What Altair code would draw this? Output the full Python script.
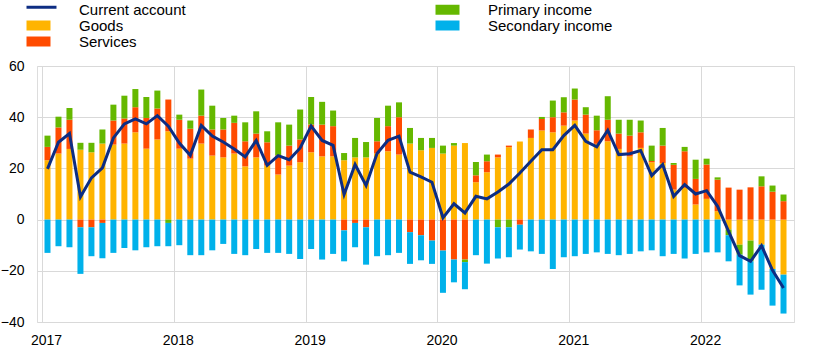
import altair as alt
import pandas as pd

# Monthly data, Jan 2017 - Aug 2022 (EUR billions)
months = []
for y in range(2017, 2023):
    for m in range(1, 13):
        months.append(f"{y}-{m:02d}")
months = months[:68]

goods = [23.2, 25.8, 27.6, 27.3, 26.3, 29.7, 29.3, 29.7, 34.1, 27.7, 31.3, 34.5,
         27.7, 23.8, 29.7, 25.0, 24.3, 25.8, 20.8, 24.3, 21.1, 17.6, 21.1, 22.4,
         26.3, 24.7, 24.7, 23.2, 24.3, 24.3, 25.8, 26.7, 25.4, 29.7, 27.1, 28.0,
         25.8, 28.9, 29.9, 14.6, 18.5, 24.3, 28.3, 30.5, 31.9, 34.8, 34.1, 36.7,
         38.7, 33.6, 29.6, 30.6, 27.6, 24.7, 28.0, 22.4, 22.1, 11.7, 12.4, 5.9,
         8.1, 3.3, -3.9, -9.8, -8.2, -9.8, -19.3, -21.5]
services = [5.2, 10.2, 11.4, -3.0, -3.0, -1.3, 9.4, 9.8, 9.8, 12.0, 12.1, 12.4,
            11.3, 11.7, 10.9, 10.2, 10.9, 12.0, 9.8, 9.3, 9.1, 7.5, 7.8, 8.9,
            10.8, 12.4, 11.8, -4.2, -1.3, -3.0, 4.8, 9.8, 14.6, -4.9, -6.1, -8.2,
            -12.1, -15.6, -15.6, 2.7, 4.3, 1.1, 0.6, -2.0, 3.3, 4.5, 5.9, 5.2,
            8.2, 7.4, 5.3, 8.4, 6.0, 8.1, 6.1, 0.5, 6.8, 9.7, 14.3, 10.0,
            13.4, 12.3, 12.5, 11.7, 12.6, 13.0, 10.9, 7.2]
primary = [4.4, 4.2, 4.6, 2.7, 3.7, 5.5, 6.2, 8.9, 7.1, 8.2, 7.0, -1.3,
           2.0, 3.2, 10.2, 9.3, 4.5, 2.8, 7.4, 8.7, 4.3, 12.9, 8.2, 11.7,
           10.8, 8.9, 6.1, 2.8, 7.6, 6.0, 9.1, 8.0, 5.8, 6.1, 4.8, 3.9,
           3.1, 1.0, -1.0, 5.2, 2.6, -3.0, -3.0, 0.0, 0.0, 0.8, 6.5, 5.9,
           4.3, 2.9, 5.7, 9.2, 5.4, 6.2, 4.6, 6.0, 6.9, 0.7, 1.7, 7.5,
           2.3, 0.9, -2.2, -3.9, -8.1, 3.9, 2.4, 2.6]
secondary = [-13.0, -10.4, -10.8, -18.2, -11.3, -13.8, -13.0, -11.1, -12.0, -10.8, -10.4, -9.1,
             -10.0, -13.9, -13.9, -12.0, -9.5, -13.4, -13.9, -11.5, -13.0, -13.0, -13.4, -15.4,
             -11.5, -15.6, -13.4, -12.1, -9.5, -14.6, -14.3, -13.9, -13.0, -12.4, -9.8, -9.1,
             -16.5, -8.9, -10.6, -13.9, -17.2, -12.2, -11.7, -9.7, -12.4, -13.4, -19.3, -14.7,
             -14.3, -13.4, -12.8, -13.4, -13.9, -13.4, -12.4, -12.0, -14.3, -13.4, -15.2, -13.4,
             -12.8, -12.8, -10.2, -12.0, -13.0, -17.6, -14.3, -15.2]
current_account = [19.8, 30.2, 33.6, 8.9, 16.3, 20.2, 31.9, 37.4, 39.3, 37.4, 40.6, 36.5,
                   29.9, 25.1, 36.8, 32.6, 30.3, 27.6, 24.5, 30.9, 21.2, 25.0, 23.4, 28.0,
                   36.5, 30.9, 29.0, 9.8, 21.5, 13.3, 25.8, 31.0, 32.6, 18.5, 16.7, 14.6,
                   0.7, 6.2, 2.6, 9.1, 8.1, 10.8, 13.9, 18.2, 22.8, 27.3, 27.3, 32.8,
                   36.8, 30.6, 28.4, 34.9, 25.4, 25.7, 27.0, 17.2, 21.5, 9.1, 13.7, 10.0,
                   11.3, 5.2, -4.6, -14.1, -16.3, -10.2, -19.8, -26.7]

bar_series = ["Goods", "Services", "Primary income", "Secondary income"]
bar_values = [goods, services, primary, secondary]
legend_order = ["Current account", "Goods", "Services", "Primary income", "Secondary income"]
legend_colors = ["#0d2d83", "#FFB400", "#FF4B00", "#65B800", "#00B1EA"]
line_color = "#0d2d83"
year_ticks = [-0.5, 11.5, 23.5, 35.5, 47.5, 59.5]
y_ticks = [-40, -30, -20, -10, 0, 10, 20, 30, 40, 50, 60]

rows = []
for ord_, (name, vals) in enumerate(zip(bar_series, bar_values)):
    for i, v in enumerate(vals):
        rows.append({"idx": i, "month": months[i], "series": name, "value": v, "ord": ord_})
bar_df = pd.DataFrame(rows)
line_df = pd.DataFrame({"idx": list(range(len(current_account))), "month": months,
                        "series": "Current account", "value": current_account})

FONT = "Liberation Sans"

x_enc = alt.X("idx:Q", title=None,
              scale=alt.Scale(domain=[-0.5, 67.5], nice=False, zero=False),
              axis=alt.Axis(values=year_ticks, grid=True, gridColor="#d9d9d9", domain=False,
                            ticks=False, tickSize=0, labelPadding=11, labelFontSize=14,
                            labelColor="#000000", labelFont=FONT, labelOffset=4,
                            labelFlush=False,
                            labelExpr="toString(2017 + round((datum.value + 0.5) / 12))"))
y_enc = alt.Y("value:Q", title=None, stack="zero",
              scale=alt.Scale(domain=[-40, 60], nice=False),
              axis=alt.Axis(values=y_ticks, grid=True, gridColor="#d9d9d9", domain=False,
                            ticks=False, tickSize=0, labelPadding=13, labelFontSize=14,
                            labelColor="#000000", labelFont=FONT))

shape_expr = ("datum.label === 'Current account' ? 'M-1.714,-0.571H2.57V-0.143H-1.714Z'"
              " : 'M-1.714,-0.714H1.714V0.714H-1.714Z'")

color_enc = alt.Color("series:N",
                      scale=alt.Scale(domain=legend_order, range=legend_colors),
                      legend=alt.Legend(title=None, orient="none", legendX=-6, legendY=-64,
                                        columns=2, columnPadding=249, rowPadding=0,
                                        labelFontSize=15, labelFont=FONT, labelColor="#000000",
                                        symbolSize=196, labelOffset=33, padding=0,
                                        symbolType=alt.ExprRef(expr=shape_expr),
                                        symbolStrokeWidth=0, symbolOpacity=1))

bars = alt.Chart(bar_df).mark_bar(size=6).encode(
    x=x_enc, y=y_enc, color=color_enc, order=alt.Order("ord:Q"))

line = alt.Chart(line_df).mark_line(strokeWidth=3, color=line_color).encode(
    x="idx:Q", y="value:Q")

chart = alt.layer(bars, line).properties(
    width=757, height=256,
    autosize=alt.AutoSizeParams(type="none"),
    padding={"left": 37, "top": 66, "right": 20, "bottom": 31},
).configure_view(stroke=None).configure(font=FONT)

chart.save("out.html", embed_options={"renderer": "svg", "actions": False})
